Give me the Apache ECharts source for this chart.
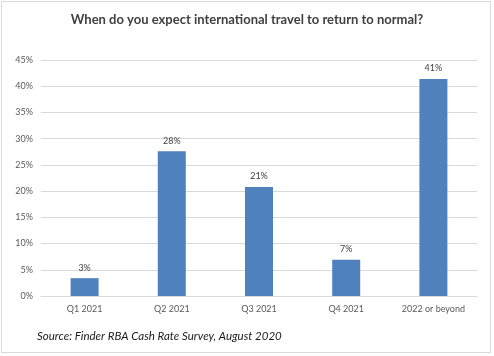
<!DOCTYPE html>
<html><head><meta charset="utf-8">
<script src="https://cdn.jsdelivr.net/npm/echarts@6/dist/echarts.min.js"></script>
<style>
html,body{margin:0;padding:0;background:#fff;}
#frame{position:absolute;left:1px;top:1px;width:490px;height:352px;border:1px solid #d9d9d9;box-sizing:border-box;}
#c{position:absolute;left:0;top:0;width:494px;height:356px;}
</style></head>
<body>
<div id="frame"></div>
<div id="c"></div>
<script>
const categories = ['Q1 2021', 'Q2 2021', 'Q3 2021', 'Q4 2021', '2022 or beyond'];
const values = [3.4, 27.6, 20.8, 6.9, 41.4];
const pointLabels = ['3%', '28%', '21%', '7%', '41%'];
const yTicks = [0, 5, 10, 15, 20, 25, 30, 35, 40, 45];

const chart = echarts.init(document.getElementById('c'), null, {renderer: 'canvas'});
chart.setOption({
  animation: false,
  title: [{
    text: 'When do you expect international travel to return to normal?',
    left: 'center', top: 8,
    textStyle: {fontFamily: 'Lato', fontWeight: 'bold', fontSize: 13, color: '#404040'}
  }, {
    text: 'Source: Finder RBA Cash Rate Survey, August 2020',
    left: 32, top: 325,
    textStyle: {fontFamily: 'Lato', fontStyle: 'italic', fontWeight: 'normal', fontSize: 11.5, color: '#1a1a1a'}
  }],
  grid: {left: 41, right: 17, top: 60, bottom: 60, containLabel: false},
  xAxis: {
    type: 'category', data: categories,
    axisLine: {show: true, lineStyle: {color: '#d9d9d9'}},
    axisTick: {show: false},
    axisLabel: {fontFamily: 'Lato', fontSize: 9, color: '#595959', margin: 9}
  },
  yAxis: {
    type: 'value', min: yTicks[0], max: yTicks[yTicks.length - 1], interval: 5,
    axisLine: {show: false}, axisTick: {show: false},
    splitLine: {lineStyle: {color: '#d9d9d9'}},
    axisLabel: {fontFamily: 'Lato', fontSize: 9, color: '#595959', margin: 8, formatter: v => v + '%'}
  },
  series: [{
    type: 'bar', data: values, barWidth: 28,
    itemStyle: {color: '#4f81bd'},
    label: {show: true, position: 'top', distance: 6, fontFamily: 'Lato', fontSize: 9, color: '#404040',
      formatter: p => pointLabels[p.dataIndex]}
  }]
});
</script>
</body></html>
